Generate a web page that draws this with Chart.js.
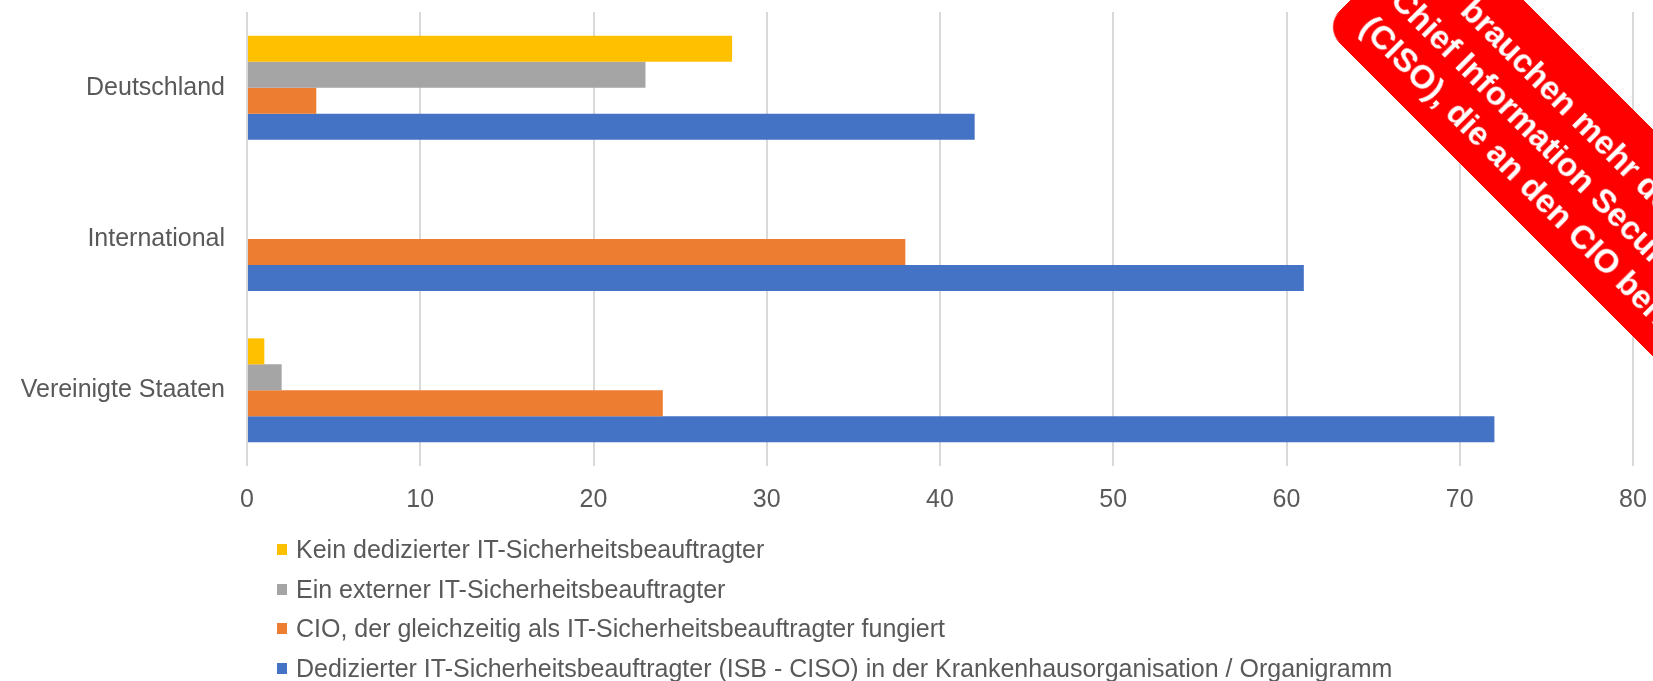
<!DOCTYPE html>
<html lang="de">
<head>
<meta charset="utf-8">
<title>IT-Sicherheitsbeauftragte im Krankenhaus</title>
<script src="https://cdn.jsdelivr.net/npm/chart.js@4.4.1/dist/chart.umd.min.js"></script>
<style>
  html, body { margin: 0; padding: 0; background: #fff; }
  #wrap { position: relative; width: 1653px; height: 681px; overflow: hidden; font-family: "Liberation Sans", Arial, sans-serif; }
  #chart { position: absolute; left: 0; top: 0; }
  #legend { position: absolute; left: 277px; top: 530px; font-size: 25px; color: #595959; white-space: nowrap; }
  #legend .item { display: flex; align-items: center; height: 39.5px; }
  #legend .box { width: 10px; height: 11px; margin-right: 9px; flex: none; }
  .ribbon { position: absolute; left: 1436.5px; top: -86.5px; width: 800px; height: 160px; padding-top: 22px; box-sizing: border-box; background: #ff0000; border-radius: 22px; transform-origin: 0 0; transform: rotate(45deg); color: #fff; font-weight: bold; font-size: 33px; line-height: 41.5px; z-index: 2; }
  .ribbon div { white-space: nowrap; }
</style>
</head>
<body>
<div id="wrap">
  <canvas id="chart" width="1653" height="681"></canvas>
  <div id="legend"></div>
  <div class="ribbon">
    <div style="padding-left:85px">brauchen mehr dedizierte</div>
    <div style="padding-left:28px">Chief Information Security Officers</div>
    <div style="padding-left:26px">(CISO), die an den CIO berichten</div>
  </div>
</div>
<script>
// data
var categories = ["Deutschland", "International", "Vereinigte Staaten"];
var seriesNames = [
  "Kein dedizierter IT-Sicherheitsbeauftragter",
  "Ein externer IT-Sicherheitsbeauftragter",
  "CIO, der gleichzeitig als IT-Sicherheitsbeauftragter fungiert",
  "Dedizierter IT-Sicherheitsbeauftragter (ISB - CISO) in der Krankenhausorganisation / Organigramm"
];
var keinIsb = [28, 0, 1];
var externerIsb = [23, 0, 2];
var cioAlsIsb = [4, 38, 24];
var dedizierterIsb = [42, 61, 72];
var seriesColors = ["#FFC000", "#A5A5A5", "#ED7D31", "#4472C4"];
var xMin = 0, xMax = 80, xStep = 10;

var textColor = "#595959";
var fontFamily = '"Liberation Sans", Arial, sans-serif';

var values = [keinIsb, externerIsb, cioAlsIsb, dedizierterIsb];

var ctx = document.getElementById("chart").getContext("2d");

var myChart = new Chart(ctx, {
  type: "bar",
  data: {
    labels: categories,
    datasets: values.map(function (v, i) {
      return {
        label: seriesNames[i],
        data: v,
        backgroundColor: seriesColors[i],
        borderWidth: 0,
        categoryPercentage: 0.687,
        barPercentage: 1,
      };
    }),
  },
  options: {
    indexAxis: "y",
    responsive: false,
    animation: false,
    layout: { padding: { top: 12, right: 20, left: 0, bottom: 155 } },
    plugins: {
      legend: { display: false },
      tooltip: { enabled: false },
    },
    scales: {
      x: {
        min: xMin,
        max: xMax,
        ticks: {
          stepSize: xStep,
          color: textColor,
          padding: 19,
          font: { family: fontFamily, size: 25 },
        },
        grid: { color: "#D9D9D9", lineWidth: 2, drawTicks: false },
        border: { display: false },
        afterFit: function (s) {
          s.height = 60;
          s.paddingLeft = 0;
          s.paddingRight = 0;
        },
      },
      y: {
        ticks: {
          color: textColor,
          padding: 22,
          font: { family: fontFamily, size: 25 },
        },
        grid: { display: false, drawTicks: false },
        border: { display: false },
        afterFit: function (s) {
          s.width = 247;
          s.paddingTop = 0;
          s.paddingBottom = 0;
        },
      },
    },
  },
});

// legend as one vertical list under the chart
var legendBox = document.getElementById("legend");
myChart.data.datasets.forEach(function (ds) {
  var item = document.createElement("div");
  item.className = "item";
  var box = document.createElement("span");
  box.className = "box";
  box.style.background = ds.backgroundColor;
  var txt = document.createElement("span");
  txt.textContent = ds.label;
  item.appendChild(box);
  item.appendChild(txt);
  legendBox.appendChild(item);
});
</script>
</body>
</html>
